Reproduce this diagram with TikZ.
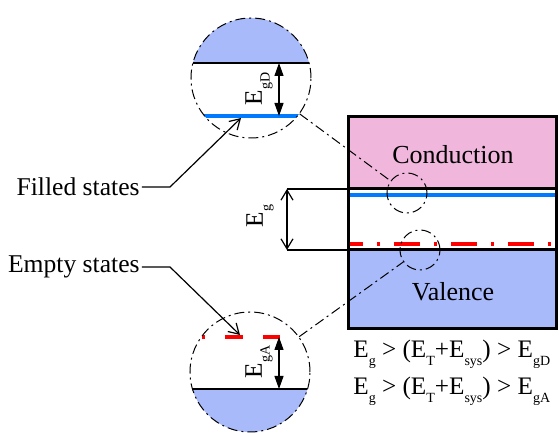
\documentclass[tikz,border=0pt]{standalone}
\usepackage{fontspec}
\setmainfont{Liberation Serif}
\usetikzlibrary{arrows.meta}

\definecolor{condpink}{RGB}{240,182,220}
\definecolor{valblue}{RGB}{168,186,250}
\definecolor{lvlblue}{RGB}{0,122,255}
\newcommand{\lowsub}[1]{\raisebox{-3.8pt}{\fontsize{7}{8}\selectfont #1}}

\begin{document}
\begin{tikzpicture}[x=0.5pt, y=-0.5pt,
    band/.style={draw=black, line width=1.5pt},
    zoomcirc/.style={draw=black, line width=0.5pt, dash pattern=on 5pt off 2pt on 1pt off 2pt},
    filledlvl/.style={draw=lvlblue, line width=1.6pt},
    emptylvl/.style={draw=red, line width=1.6pt},
    lead/.style={draw=black, line width=0.6pt, -{Straight Barb[length=5pt,width=6pt]}},
    lbl/.style={font=\fontsize{12.8}{14}\selectfont, inner sep=0pt},
    elbl/.style={font=\fontsize{12.6}{14}\selectfont, inner sep=0pt}]
    \useasboundingbox (0,0) rectangle (559,433);

    % Band diagram
    \fill[condpink] (349,117) rectangle (557,189);
    \fill[valblue] (349,250) rectangle (557,329);
    \draw[filledlvl] (349,195) -- (557,195);
    \draw[emptylvl, dash pattern=on 13pt off 7pt on 1.5pt off 7pt, dash phase=6pt] (349,244) -- (557,244);
    \draw[band] (349,117) rectangle (557,329);
    \draw[band] (349,189) -- (557,189);
    \draw[band] (349,250) -- (557,250);
    \node[lbl, font=\fontsize{13}{15}\selectfont] (cond) at (453,155) {Conduction};
    \node[lbl, font=\fontsize{13}{15}\selectfont] (val) at (453,292) {Valence};

    % Band gap
    \coordinate (gapT) at (287,189);
    \coordinate (gapB) at (287,250);
    \draw[line width=0.6pt] (gapT) -- (349,189);
    \draw[line width=0.6pt] (gapB) -- (349,250);
    \draw[line width=0.6pt, {Straight Barb[length=5pt,width=6pt]}-{Straight Barb[length=5pt,width=6pt]}] (gapT) -- (gapB);
    \node[elbl, rotate=90] (eg) at (260,216) {E\lowsub{g}};

    % Spots on the levels
    \node[circle, zoomcirc, minimum size=20pt, inner sep=0pt] (spotD) at (407,193) {};
    \node[circle, zoomcirc, minimum size=20pt, inner sep=0pt] (spotA) at (420,250) {};

    % Zoom on the donor level
    \begin{scope}
        \clip (251,78) circle[radius=30pt];
        \fill[valblue] (180,0) rectangle (320,63);
        \draw[line width=0.6pt] (180,63) -- (320,63);
        \draw[filledlvl] (180,116) -- (320,116);
    \end{scope}
    \node[circle, zoomcirc, minimum size=60pt, inner sep=0pt] (topzoom) at (251,78) {};
    \draw[line width=0.6pt, {Triangle[length=6.5pt,width=4.5pt]}-{Triangle[length=6.5pt,width=4.5pt]}] (279,63) -- (279,116);
    \node[elbl, rotate=90] (egd) at (259,89) {E\lowsub{gD}};

    % Zoom on the acceptor level
    \begin{scope}
        \clip (250,372) circle[radius=30pt];
        \fill[valblue] (180,389) rectangle (320,440);
        \draw[line width=0.6pt] (180,389) -- (320,389);
    \end{scope}
    \draw[emptylvl] (202,337) -- (205,337);
    \draw[emptylvl] (225,337) -- (243,337);
    \draw[emptylvl] (263,337) -- (280,337);
    \node[circle, zoomcirc, minimum size=60pt, inner sep=0pt] (botzoom) at (250,372) {};
    \draw[line width=0.6pt, {Triangle[length=6.5pt,width=4.5pt]}-{Triangle[length=6.5pt,width=4.5pt]}] (279,389) -- (279,337);
    \node[elbl, rotate=90] (ega) at (259,362) {E\lowsub{gA}};

    % Zoom connectors
    \draw[zoomcirc] (topzoom) -- (spotD);
    \draw[zoomcirc] (botzoom) -- (spotA);

    % Leaders
    \node[lbl, anchor=east] (filled) at (140,187) {Filled states};
    \node[lbl, anchor=east] (empty) at (140,267) {Empty states};
    \coordinate (filledTip) at (241,118);
    \coordinate (emptyTip) at (240,335);
    \draw[lead] (filled.east) ++(2,0) -- (170,187) -- (filledTip);
    \draw[lead] (empty.east) ++(2,0) -- (170,267) -- (emptyTip);

    % Conditions
    \node[elbl, anchor=base west] (condD) at (353,358) {E\lowsub{g} > (E\lowsub{T}+E\lowsub{sys}) > E\lowsub{gD}};
    \node[elbl, anchor=base west] (condA) at (353,395) {E\lowsub{g} > (E\lowsub{T}+E\lowsub{sys}) > E\lowsub{gA}};
\end{tikzpicture}
\end{document}
